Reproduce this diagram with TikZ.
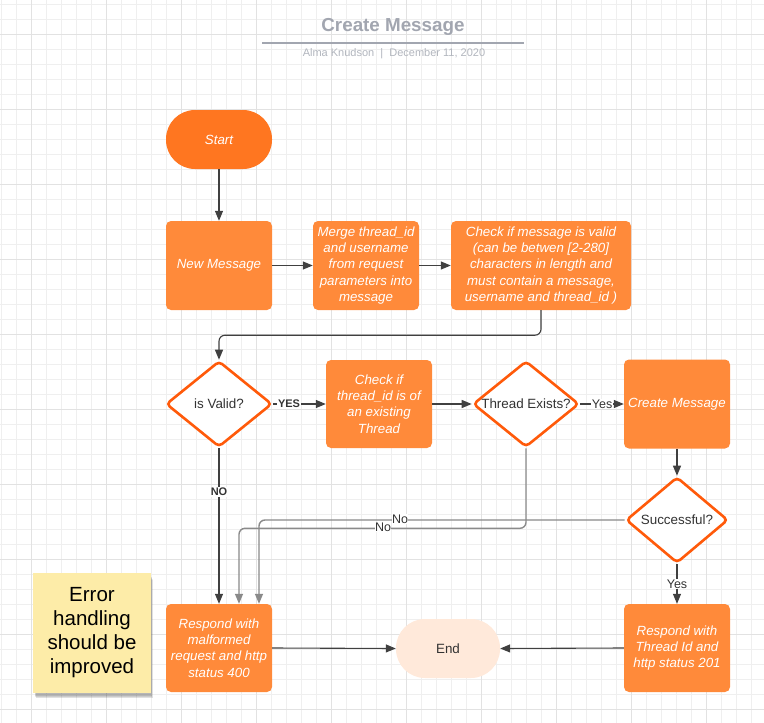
\documentclass[tikz,border=0pt]{standalone}
\usepackage{fontspec}
\setmainfont{Liberation Sans}
\usetikzlibrary{shapes.geometric,arrows.meta}
\definecolor{startc}{HTML}{FF7620}
\definecolor{boxc}{HTML}{FF8A3A}
\definecolor{diac}{HTML}{FF5A0A}
\definecolor{endc}{HTML}{FFE9DA}
\definecolor{linec}{HTML}{404040}
\definecolor{gline}{HTML}{8A8A8A}
\definecolor{gridminor}{HTML}{EFEFEF}
\definecolor{gridmajor}{HTML}{E2E2E2}
\definecolor{titlec}{HTML}{A2A6B0}
\definecolor{subc}{HTML}{B2B6BE}
\definecolor{stickyc}{HTML}{FDECA8}
\definecolor{txtc}{HTML}{333333}
\begin{document}
\begin{tikzpicture}[x=1pt,y=-1pt,
  boxtext/.style={text=white, font=\fontsize{13.3}{16.3}\selectfont\itshape, align=center},
  box/.style={boxtext, fill=boxc, rounded corners=5pt, minimum width=106pt, minimum height=89pt, inner sep=2pt},
  term/.style={rounded corners=29pt, minimum width=106pt, minimum height=59pt, inner sep=2pt},
  dia/.style={shape=diamond, draw=diac, fill=white, line width=2.6pt, rounded corners=4pt, inner sep=0pt, minimum width=106pt, minimum height=86pt},
  diatext/.style={text=txtc, font=\fontsize{13.4}{15}\selectfont},
  arr/.style={draw=linec, line width=1.1pt, -{Triangle[length=10pt,width=8pt]}},
  garr/.style={draw=gline, line width=1.4pt, rounded corners=6pt, -{Triangle[length=10pt,width=8pt]}},
  lbl/.style={text=txtc, font=\fontsize{12.5}{14}\selectfont, fill=white, inner sep=1pt},
  lblb/.style={lbl, font=\fontsize{11}{13}\selectfont\bfseries},
  lblg/.style={text=txtc, font=\fontsize{12.5}{14}\selectfont, fill=white, inner sep=0.5pt}
]
\useasboundingbox (0,0) rectangle (764,723);
\fill[white] (0,0) rectangle (764,723);
% grid
\foreach \x in {1,16,...,763} \draw[gridminor, line width=0.8pt] (\x,0) -- (\x,723);
\foreach \y in {4,19,...,722} \draw[gridminor, line width=0.8pt] (0,\y) -- (764,\y);
\foreach \x in {31,106,...,763} \draw[gridmajor, line width=1pt] (\x,0) -- (\x,723);
\foreach \y in {34,109,...,722} \draw[gridmajor, line width=1pt] (0,\y) -- (764,\y);

% title
\node[text=titlec, font=\fontsize{18.8}{22}\selectfont\bfseries] (title) at (393,27) {Create Message};
\draw[titlec, line width=1.3pt] (262,43) -- (524,43);
\node[text=subc, font=\fontsize{11}{12}\selectfont] (sub) at (394,54) {Alma Knudson\ \ |\ \ December 11, 2020};

% nodes
\node[term, fill=startc, boxtext] (start) at (219,139.5) {Start};
\node[box] (nm) at (219,265.5) {New Message};
\node[box] (merge) at (366,265.5) {Merge thread\_id\\and username\\from request\\parameters into\\message};
\node[box, minimum width=180pt] (check) at (541,265.5) {Check if message is valid\\(can be betwen [2-280]\\characters in length and\\must contain a message,\\username and thread\_id )};

\node[dia, label={[diatext]center:is Valid?}] (iv) at (219,404) {};
\node[box, minimum height=88pt] (ctf) at (379,404) {Check if\\thread\_id is of\\an existing\\Thread};
\node[dia, label={[diatext]center:Thread Exists?}] (te) at (526,404) {};
\node[box] (cm) at (677,404) {Create Message};
\node[dia, minimum width=102pt, label={[diatext]center:Successful?}] (su) at (677,520) {};

\node[box, minimum height=88pt] (r400) at (219,648) {Respond with\\malformed\\request and http\\status 400};
\node[term, fill=endc, text=txtc, font=\fontsize{13.4}{15}\selectfont, minimum width=104pt] (endn) at (448,648.5) {End};
\node[box, minimum height=88pt] (r201) at (677,648) {Respond with\\Thread Id and\\http status 201};

% sticky note
\foreach \o/\op in {6/0.05,5/0.07,4/0.09,3/0.1} \fill[black, opacity=\op] (33+\o*0.5,573+\o*1.2) rectangle (151+\o*0.3,693+\o*0.9);
\node[fill=stickyc, minimum width=118pt, minimum height=120pt, inner sep=0pt, align=center, text=black, font=\fontsize{20.5}{24}\selectfont] (note) at (92,633) {Error\\handling\\should be\\improved};

% connectors
\draw[arr] (start) -- (nm);
\draw[arr] (nm.east) -- (merge.west);
\draw[arr] (merge.east) -- (check.west);
\draw[arr, rounded corners=6pt] (check.south) -- ++(0,25) -| (iv.north);
\draw[arr] (iv.east) -- node[lblb, pos=0.3] {YES} (ctf.west);
\draw[arr] (ctf.east) -- (te.west);
\draw[arr] (te.east) -- node[lbl, pos=0.5] {Yes} (cm.west);
\draw[arr] (cm.south) -- (su.north);
\draw[arr] (su.south) -- node[lbl, pos=0.5] {Yes} (r201.north);
\draw[arr] (r201.west) -- (endn.east);
\draw[arr] (r400.east) -- (endn.west);
\draw[arr] (iv.south) -- node[lblb, pos=0.28] {NO} (r400.north);
\draw[garr] (te.south) -- ++(0,80) -| ([xshift=20pt]r400.north);
\draw[garr] (su.west) -| ([xshift=40pt]r400.north);
\node[lblg] (no1) at (383,527) {No};
\node[lblg] (no2) at (400,519) {No};
\end{tikzpicture}
\end{document}
